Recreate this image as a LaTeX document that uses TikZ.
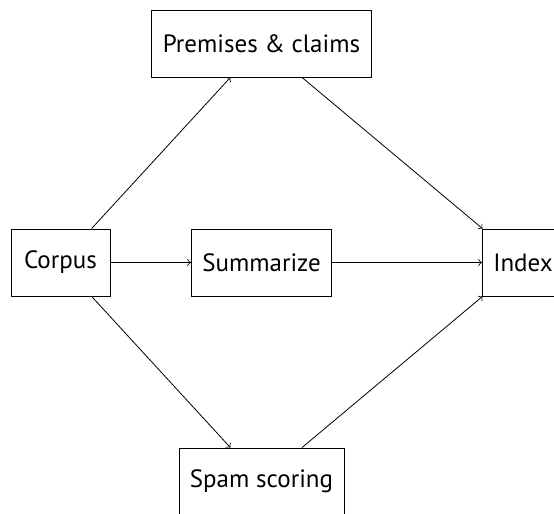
\documentclass[tikz,border=0pt]{standalone}
\usepackage{fontspec}
\setmainfont{PT Sans}
\usepackage{tikz}

\tikzset{box/.style={draw, minimum height=33.5pt, inner xsep=5.5pt, font=\fontsize{12.5}{15}\selectfont}}

\begin{document}
\begin{tikzpicture}
\useasboundingbox (0,0) rectangle (277pt,257pt);
\path   (30.25pt,125.75pt) node[box, minimum width=49.5pt] (corpus) {Corpus}
        (130.75pt,125.75pt) node[box] (summarize) {Summarize}
        (130.75pt,235.25pt) node[box] (premises) {Premises \& claims}
        (130.75pt,16.25pt) node[box] (spam) {Spam scoring}
        (261.5pt,125.75pt) node[box, minimum width=40pt] (index) {Index};
\draw[->] (corpus) -- (premises);
\draw[->] (corpus) -- (summarize);
\draw[->] (corpus) -- (spam);
\foreach \src in {premises,summarize,spam}
	\draw[->] (\src) -- (index);
\end{tikzpicture}
\end{document}
